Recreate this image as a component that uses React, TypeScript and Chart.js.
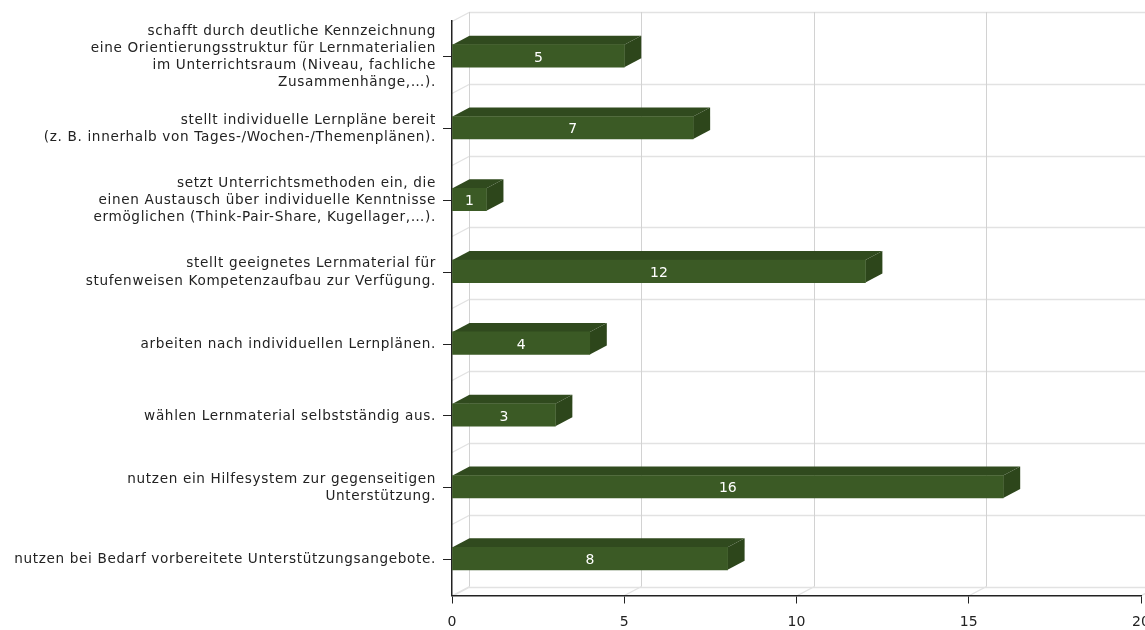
import React, { useEffect, useRef } from "react";
import { Chart, registerables } from "chart.js";

Chart.register(...registerables);

const categories: string[][] = [
  ["schafft durch deutliche Kennzeichnung", "eine Orientierungsstruktur für Lernmaterialien", "im Unterrichtsraum (Niveau, fachliche", "Zusammenhänge,…)."],
  ["stellt individuelle Lernpläne bereit", "(z. B. innerhalb von Tages-/Wochen-/Themenplänen)."],
  ["setzt Unterrichtsmethoden ein, die", "einen Austausch über individuelle Kenntnisse", "ermöglichen (Think-Pair-Share, Kugellager,…)."],
  ["stellt geeignetes Lernmaterial für", "stufenweisen Kompetenzaufbau zur Verfügung."],
  ["arbeiten nach individuellen Lernplänen."],
  ["wählen Lernmaterial selbstständig aus."],
  ["nutzen ein Hilfesystem zur gegenseitigen", "Unterstützung."],
  ["nutzen bei Bedarf vorbereitete Unterstützungsangebote."],
];
const values: number[] = [5, 7, 1, 12, 4, 3, 16, 8];

const FONT = "'DejaVu Sans', Verdana, sans-serif";
const DX = 17;
const DY = 9;
const BAR_SHIFT = -1;
const FRONT = "#3b5a25";
const TOP = "#304a1e";
const SIDE = "#2d461b";
const GRID_V = "#d2d2d2";
const GRID_H = "#e2e2e2";
const AXIS = "#222222";

const line = (ctx: CanvasRenderingContext2D, x1: number, y1: number, x2: number, y2: number) => {
  ctx.beginPath();
  ctx.moveTo(x1, y1);
  ctx.lineTo(x2, y2);
  ctx.stroke();
};

const poly = (ctx: CanvasRenderingContext2D, pts: number[][], color: string) => {
  ctx.fillStyle = color;
  ctx.beginPath();
  pts.forEach((p, i) => (i ? ctx.lineTo(p[0], p[1]) : ctx.moveTo(p[0], p[1])));
  ctx.closePath();
  ctx.fill();
};

const wallPlugin = {
  id: "wall3d",
  beforeDraw(chart: any) {
    const { ctx, chartArea: a, scales } = chart;
    const y: any = scales.y;
    if (!y.__spaced) {
      y.__spaced = true;
      const orig = y.drawLabels;
      y.drawLabels = function (area: any) {
        ctx.save();
        (ctx as any).letterSpacing = "0.65px";
        orig.call(this, area);
        ctx.restore();
      };
    }
    ctx.save();
    const x = scales.x;
    const xt = x.ticks.map((t: any) => Math.round(x.getPixelForValue(t.value)) + 0.5);
    const band = (a.bottom - a.top) / categories.length;
    ctx.strokeStyle = GRID_H;
    ctx.lineWidth = 1.4;
    for (let i = 0; i <= categories.length; i++) {
      const yy = Math.round(a.top + band * i) + 0.5;
      line(ctx, a.left + DX, yy - DY, chart.width, yy - DY);
      line(ctx, a.left, yy, a.left + DX, yy - DY);
    }
    xt.forEach((px: number) => line(ctx, px, a.bottom, px + DX, a.bottom - DY));
    ctx.strokeStyle = GRID_V;
    ctx.lineWidth = 1;
    xt.forEach((px: number) => line(ctx, px + DX, a.top - DY, px + DX, a.bottom - DY));
    ctx.restore();
  },
  beforeDatasetsDraw(chart: any) {
    const { ctx } = chart;
    ctx.save();
    chart.getDatasetMeta(0).data.forEach((b: any) => {
      const half = b.height / 2;
      const t = b.y - half + BAR_SHIFT;
      const bt = b.y + half + BAR_SHIFT;
      poly(ctx, [[b.base, t], [b.base + DX, t - DY], [b.x + DX, t - DY], [b.x, t]], TOP);
      poly(ctx, [[b.x, t], [b.x + DX, t - DY], [b.x + DX, bt - DY], [b.x, bt]], SIDE);
    });
    ctx.restore();
    ctx.save();
    ctx.translate(0, BAR_SHIFT);
  },
  afterDatasetsDraw(chart: any) {
    const { ctx } = chart;
    ctx.restore();
    ctx.save();
    ctx.fillStyle = "#ffffff";
    ctx.font = `14px ${FONT}`;
    ctx.textAlign = "center";
    ctx.textBaseline = "middle";
    chart.getDatasetMeta(0).data.forEach((b: any, i: number) => {
      ctx.fillText(String(values[i]), (b.base + b.x) / 2, b.y + BAR_SHIFT + 2);
    });
    ctx.restore();
  },
};

export default function App() {
  const ref = useRef<HTMLCanvasElement>(null);
  useEffect(() => {
    if (!ref.current) return;
    const chart = new Chart(ref.current, {
      type: "bar",
      data: {
        labels: categories,
        datasets: [
          {
            data: values,
            backgroundColor: FRONT,
            borderWidth: 0,
            barThickness: 22.5,
          },
        ],
      },
      options: {
        indexAxis: "y",
        responsive: false,
        animation: false,
        layout: { padding: { top: 21, right: 4, left: 0, bottom: 0 } },
        plugins: { legend: { display: false }, tooltip: { enabled: false } },
        scales: {
          x: {
            min: 0,
            max: 20,
            ticks: {
              stepSize: 5,
              color: "#222222",
              font: { family: FONT, size: 14 },
              padding: 10,
              maxRotation: 0,
            },
            grid: { drawOnChartArea: false, drawTicks: true, tickLength: 8, color: AXIS },
            border: { color: AXIS, width: 1.5 },
            afterFit(s: any) {
              s.height = 34.5;
              s.paddingLeft = 0;
              s.paddingRight = 0;
            },
          },
          y: {
            ticks: {
              color: "#222222",
              font: { family: FONT, size: 13.6, lineHeight: 1.27 },
              padding: 7,
              autoSkip: false,
            },
            grid: { drawOnChartArea: false, drawTicks: true, tickLength: 9, color: AXIS, offset: false },
            border: { color: AXIS, width: 1.5 },
            afterFit(s: any) {
              s.width = 452;
              s.paddingTop = 0;
              s.paddingBottom = 0;
            },
          },
        },
      },
      plugins: [wallPlugin],
    } as any);
    return () => chart.destroy();
  }, []);
  return (
    <div style={{ position: "absolute", left: 0, top: 0, width: 1145, height: 630, background: "#fff" }}>
      <canvas ref={ref} width={1145} height={630} style={{ display: "block" }} />
    </div>
  );
}
